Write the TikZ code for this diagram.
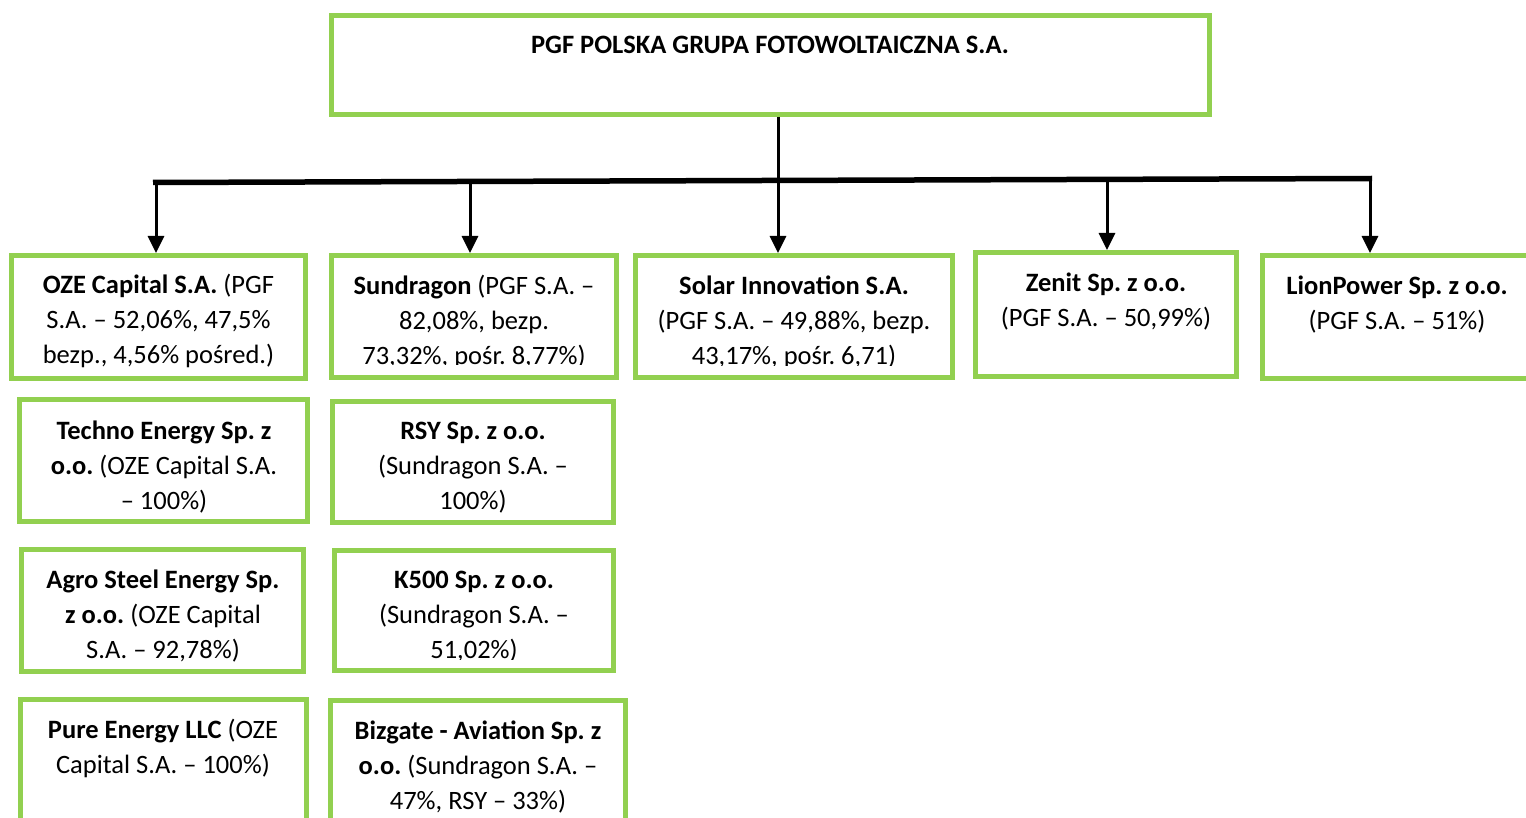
\documentclass[tikz,border=0pt]{standalone}
\usepackage{fontspec}
\setmainfont{Carlito}
\frenchspacing
\usetikzlibrary{arrows.meta}
\definecolor{pgfgreen}{HTML}{92D050}
\tikzset{
  gbox/.style={draw=pgfgreen, line width=5pt, fill=white, inner sep=0pt},
  txt/.style={align=center, inner sep=0pt, font=\fontsize{26.5}{35}\selectfont, text=black},
  bar/.style={line width=5.5pt, draw=black},
  drop/.style={line width=3pt, draw=black, -{Triangle[width=16pt,length=17pt]}},
}
\newcommand\gbox[5]{%
  \node[gbox, minimum width={(#4-#2-5)*1pt}, minimum height={(#5-#3-5)*1pt}]
    (#1) at ({(#2+#4)/2},{(#3+#5)/2}) {};}
\begin{document}
\begin{tikzpicture}[x=1pt,y=-1pt]
\useasboundingbox (0,0) rectangle (1526,818);
\fill[white] (0,0) rectangle (1526,818);
% boxes
\gbox{top}{329}{13}{1212}{117}
\gbox{oze}{9}{253}{308}{381}
\gbox{sun}{329}{253}{619}{380}
\gbox{sol}{633}{253}{955}{380}
\gbox{zen}{973}{250}{1239}{379}
\gbox{lion}{1260}{253}{1536}{381}
\gbox{tech}{17}{397}{310}{524}
\gbox{rsy}{330}{399}{616}{525}
\gbox{agro}{19}{547}{306}{674}
\gbox{k500}{332}{548}{616}{673}
\gbox{pure}{18}{697}{309}{840}
\gbox{biz}{328}{698}{628}{840}
% texts
\node[txt, font=\fontsize{26.5}{35}\selectfont\bfseries] (toptxt) at (770,45) {PGF POLSKA GRUPA FOTOWOLTAICZNA S.A.};
\node[txt] (ozetxt) at (158.5,321) {\textbf{OZE Capital S.A.} (PGF\\S.A. – 52,06\%, 47,5\%\\bezp., 4,56\% pośred.)};
\begin{scope}
\clip (330,255) rectangle (620,364);
\node[txt] (suntxt) at (474,322) {\textbf{Sundragon} (PGF S.A. –\\82,08\%, bezp.\\73,32\%, pośr. 8,77\%)};
\end{scope}
\begin{scope}
\clip (634,255) rectangle (955,365);
\node[txt] (soltxt) at (794,322) {\textbf{Solar Innovation S.A.}\\(PGF S.A. – 49,88\%, bezp.\\43,17\%, pośr. 6,71)};
\end{scope}
\node[txt] (zentxt) at (1106,301.5) {\textbf{Zenit Sp. z o.o.}\\(PGF S.A. – 50,99\%)};
\node[txt] (liontxt) at (1397,305) {\textbf{LionPower Sp. z o.o.}\\(PGF S.A. – 51\%)};
\node[txt] (techtxt) at (164,467.5) {\textbf{Techno Energy Sp. z}\\\textbf{o.o.} (OZE Capital S.A.\\– 100\%)};
\node[txt] (rsytxt) at (473,468) {\textbf{RSY Sp. z o.o.}\\(Sundragon S.A. –\\100\%)};
\node[txt] (agrotxt) at (163,616.5) {\textbf{Agro Steel Energy Sp.}\\\textbf{z o.o.} (OZE Capital\\S.A. – 92,78\%)};
\begin{scope}
\clip (333,550) rectangle (616,659);
\node[txt] (k500txt) at (474,617) {\textbf{K500 Sp. z o.o.}\\(Sundragon S.A. –\\51,02\%)};
\end{scope}
\node[txt] (puretxt) at (163,748.5) {\textbf{Pure Energy LLC} (OZE\\Capital S.A. – 100\%)};
\node[txt] (biztxt) at (478,767) {\textbf{Bizgate - Aviation Sp. z}\\\textbf{o.o.} (Sundragon S.A. –\\47\%, RSY – 33\%)};
% connectors
\coordinate (bl) at (153,182.5);
\coordinate (br) at (1372,178.5);
\coordinate (d1) at (156,182.4);
\coordinate (d2) at (470,181.5);
\coordinate (d4) at (1107,179.4);
\coordinate (d5) at (1370,178.5);
\draw[bar] (bl) -- (br);
\draw[drop] (top.south -| 778,0) -- (sol.north -| 778,0);
\draw[drop] (d1) -- (d1 |- oze.north);
\draw[drop] (d2) -- (d2 |- sun.north);
\draw[drop] (d4) -- (d4 |- zen.north);
\draw[drop] (d5) -- (d5 |- lion.north);
\end{tikzpicture}
\end{document}
